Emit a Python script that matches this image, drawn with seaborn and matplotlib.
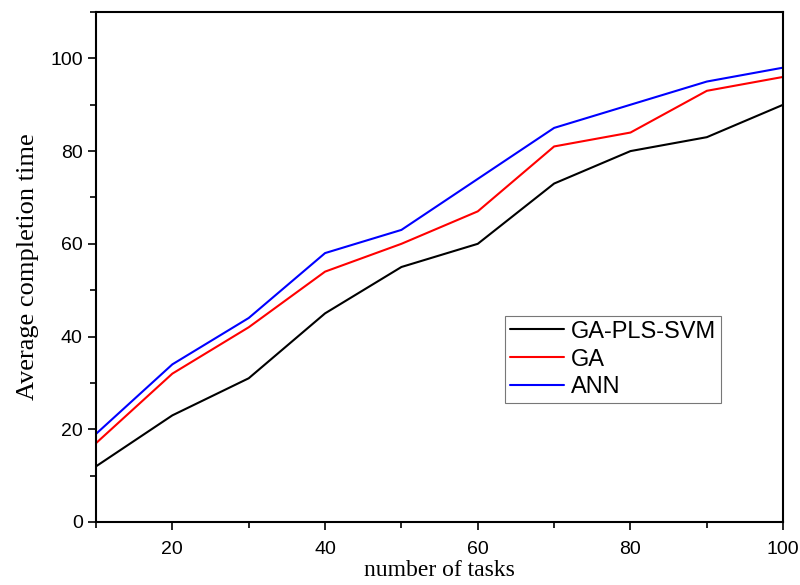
import pandas as pd
import matplotlib.pyplot as plt
import seaborn as sns
from matplotlib.ticker import MultipleLocator

# Values
tasks = [10, 20, 30, 40, 50, 60, 70, 80, 90, 100]
ga_pls_svm = [12, 23, 31, 45, 55, 60, 73, 80, 83, 90]
ga = [17, 32, 42, 54, 60, 67, 81, 84, 93, 96]
ann = [19, 34, 44, 58, 63, 74, 85, 90, 95, 98]
methods = ['GA-PLS-SVM', 'GA', 'ANN']
colors = ['black', 'red', 'blue']

# Long format for seaborn
df = pd.DataFrame({
    'tasks': tasks * 3,
    'time': ga_pls_svm + ga + ann,
    'method': [m for m in methods for _ in tasks],
})

sns.set_style('ticks')
plt.rcParams['font.family'] = ['Liberation Sans', 'DejaVu Sans']
plt.rcParams['text.color'] = 'black'

fig = plt.figure(figsize=(8, 5.85), dpi=100)
ax = fig.add_axes([0.12, 0.1077, 0.859, 0.8718])

sns.lineplot(data=df, x='tasks', y='time', hue='method', hue_order=methods,
             palette=colors, linewidth=1.5, ax=ax)

ax.set_xlim(10, 100)
ax.set_ylim(0, 110)
ax.xaxis.set_major_locator(MultipleLocator(20))
ax.xaxis.set_minor_locator(MultipleLocator(10))
ax.yaxis.set_major_locator(MultipleLocator(20))
ax.yaxis.set_minor_locator(MultipleLocator(10))
ax.tick_params(which='major', direction='out', length=6, width=1.2,
               labelsize=14, labelcolor='black', color='black')
ax.tick_params(which='minor', direction='out', length=4, width=1.2, color='black')
ax.tick_params(axis='x', which='major', pad=8)
for s in ax.spines.values():
    s.set_linewidth(1.5)
    s.set_color('black')

ax.set_xlabel('number of tasks', family=['Liberation Serif'], fontsize=17,
              labelpad=1, color='black')
ax.set_ylabel('Average completion time', family=['Liberation Serif'], fontsize=19,
              labelpad=8, color='black')

leg = ax.legend(loc='upper left', bbox_to_anchor=(0.595, 0.404), fontsize=17,
                handlelength=2.3, frameon=True, fancybox=False, borderpad=0.2,
                labelspacing=0.25, handletextpad=0.3, borderaxespad=0)
leg.get_frame().set_edgecolor('#555555')
leg.get_frame().set_linewidth(0.8)
for t in leg.get_texts():
    t.set_color('black')

fig.savefig('out.png', dpi=100)
